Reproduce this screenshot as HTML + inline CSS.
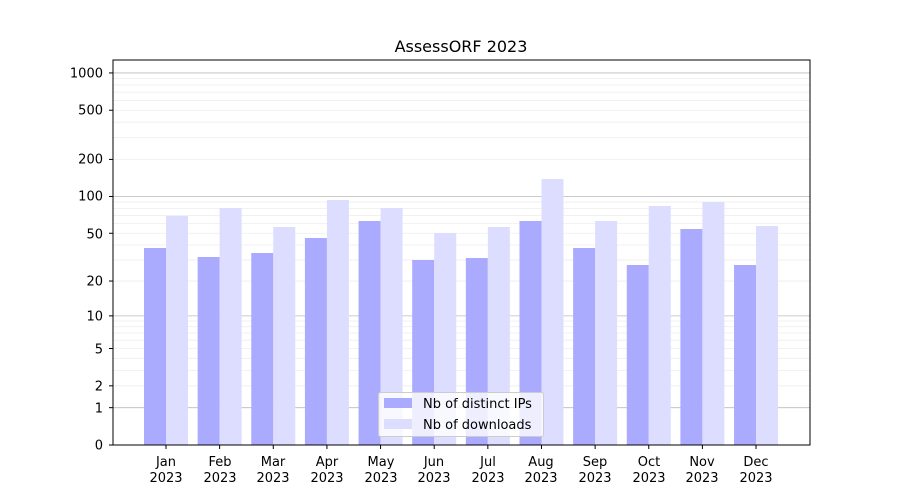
<!DOCTYPE html>
<html><head><meta charset="utf-8"><style>body{margin:0;background:#fff}svg{display:block}text{font-family:"DejaVu Sans","Liberation Sans",sans-serif;font-size:13px;fill:#000}</style></head>
<body>
<svg id="s" width="900" height="500" xmlns="http://www.w3.org/2000/svg">
<rect width="900" height="500" fill="#fff"/>
<g id="grid"></g>
<g id="bars"></g>
<rect x="113" y="60" width="697" height="385" fill="none" stroke="#000" stroke-width="1"/>
<text x="461" y="52" text-anchor="middle" style="font-size:16px">AssessORF 2023</text>
<g text-anchor="end">
<text x="103" y="449.5">0</text>
<text x="103" y="412.5">1</text>
<text x="103" y="390.5">2</text>
<text x="103" y="353.5">5</text>
<text x="103" y="320.5">10</text>
<text x="103" y="285.5">20</text>
<text x="103" y="238.5">50</text>
<text x="103" y="200.5">100</text>
<text x="103" y="163.5">200</text>
<text x="103" y="114.5">500</text>
<text x="103" y="77.5">1000</text>
</g>
<g id="xl" text-anchor="middle">
<text x="166" y="466">Jan</text><text x="166" y="482">2023</text>
<text x="220" y="466">Feb</text><text x="220" y="482">2023</text>
<text x="273" y="466">Mar</text><text x="273" y="482">2023</text>
<text x="327" y="466">Apr</text><text x="327" y="482">2023</text>
<text x="381" y="466">May</text><text x="381" y="482">2023</text>
<text x="434" y="466">Jun</text><text x="434" y="482">2023</text>
<text x="488" y="466">Jul</text><text x="488" y="482">2023</text>
<text x="541" y="466">Aug</text><text x="541" y="482">2023</text>
<text x="595" y="466">Sep</text><text x="595" y="482">2023</text>
<text x="649" y="466">Oct</text><text x="649" y="482">2023</text>
<text x="702" y="466">Nov</text><text x="702" y="482">2023</text>
<text x="756" y="466">Dec</text><text x="756" y="482">2023</text>
</g>
<g>
<rect x="378.5" y="392.5" width="165" height="44" rx="2" fill="#fff" fill-opacity="0.8" stroke="#ccc"/>
<rect x="384" y="398" width="28" height="10" fill="#aaaaff"/>
<rect x="384" y="419" width="28" height="10" fill="#ddddff"/>
<text x="423" y="408">Nb of distinct IPs</text>
<text x="423" y="429">Nb of downloads</text>
</g>
</svg>
<script>
var ns="http://www.w3.org/2000/svg";
function Y(v){return 445-124*Math.log10(v+1);}
var g=document.getElementById('grid');
function line(y,c){var l=document.createElementNS(ns,'line');l.setAttribute('x1',113);l.setAttribute('x2',810);l.setAttribute('y1',y);l.setAttribute('y2',y);l.setAttribute('stroke',c);l.setAttribute('stroke-width',0.8);g.appendChild(l);}
[1,10,100].forEach(function(d){for(var k=2;k<10;k++)line(Y(k*d),'#eeeeee');});
[1,10,100,1000].forEach(function(v){line(Y(v),'#bbbbbb');});
var b=document.getElementById('bars');
var bt=[248,257,253,238,221,260,258,221,248,265,229,265];
var lt=[216,208,227,200,208,233,227,179,221,206,202,226];
for(var i=0;i<12;i++){var c=166+i*53.64;
[[c-22,bt[i],'#aaaaff'],[c,lt[i],'#ddddff']].forEach(function(a){var r=document.createElementNS(ns,'rect');r.setAttribute('x',a[0]);r.setAttribute('y',a[1]);r.setAttribute('width',22);r.setAttribute('height',445-a[1]);r.setAttribute('fill',a[2]);b.appendChild(r);});
var t=document.createElementNS(ns,'line');t.setAttribute('x1',c);t.setAttribute('x2',c);t.setAttribute('y1',445);t.setAttribute('y2',449);t.setAttribute('stroke','#000');b.appendChild(t);}
[0,1,2,5,10,20,50,100,200,500,1000].forEach(function(v){var t=document.createElementNS(ns,'line');t.setAttribute('x1',109);t.setAttribute('x2',113);t.setAttribute('y1',Y(v));t.setAttribute('y2',Y(v));t.setAttribute('stroke','#000');b.appendChild(t);});
</script>
</body></html>
